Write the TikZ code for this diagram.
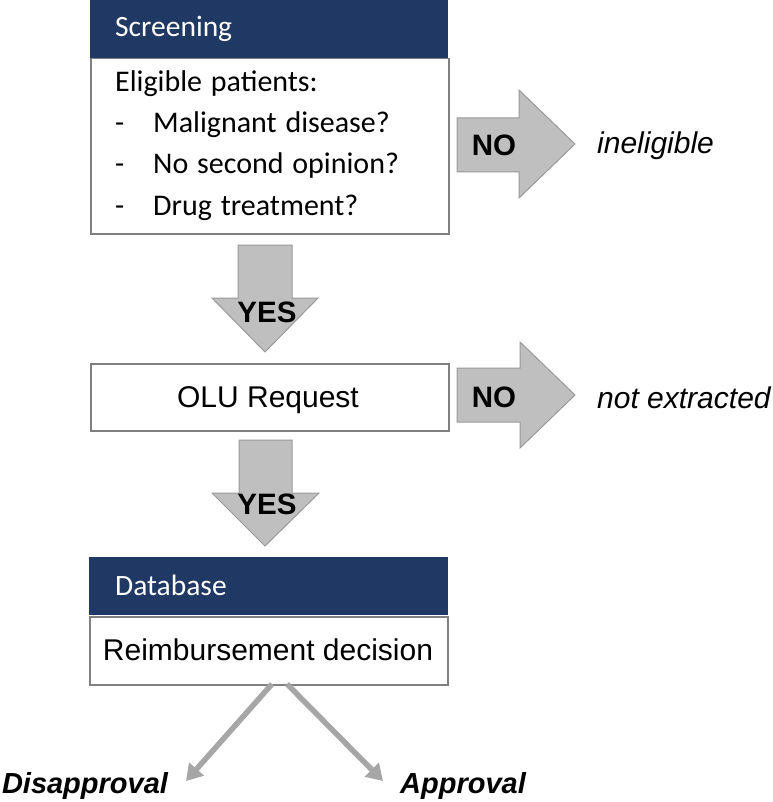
\documentclass[tikz,border=0pt]{standalone}
\usepackage{fontspec}
\setmainfont{Liberation Sans}
\newfontfamily\calfont{Carlito}
\newfontfamily\calwide[WordSpace=1.3]{Carlito}
\usetikzlibrary{arrows.meta,calc}
\definecolor{navy}{HTML}{203864}
\definecolor{boxgray}{HTML}{808080}
\definecolor{arrfill}{HTML}{BFBFBF}
\definecolor{arrline}{HTML}{999999}
\definecolor{vgray}{HTML}{A6A6A6}
\begin{document}
\begin{tikzpicture}[x=1pt,y=-1pt,
  box/.style={draw=boxgray, line width=1.5pt, fill=white, inner sep=0pt, anchor=north west, minimum width=358pt},
  hdr/.style={fill=navy, inner sep=0pt, anchor=north west, minimum width=358pt, minimum height=58pt},
  ctxt/.style={font=\calfont\fontsize{29.5}{35}\selectfont, inner sep=0pt, anchor=base west},
  btxt/.style={font=\calwide\fontsize{30}{36}\selectfont, inner sep=0pt, anchor=base west},
  atxt/.style={font=\fontsize{30}{36}\selectfont, inner sep=0pt, anchor=base},
  blk/.style={fill=arrfill, draw=arrline, line width=1pt, line join=miter},
  blbl/.style={font=\bfseries\fontsize{29.5}{35}\selectfont, inner sep=0pt},
  itl/.style={font=\itshape\fontsize{30}{36}\selectfont, inner sep=0pt, anchor=west},
  outc/.style={font=\bfseries\itshape\fontsize{29}{35}\selectfont, inner sep=0pt, anchor=base},
  decarr/.style={draw=vgray, line width=5.5pt, -{Triangle[length=16pt,width=19pt]}}]
\useasboundingbox (0,0) rectangle (772,802);

% Screening box
\node[box, minimum height=175pt] (scrB) at (90,58) {};
\node[hdr] (scrH) at (90,0) {};
\node[ctxt, text=white] (scrT) at (115,37) {Screening};
\node[btxt] (elig) at (115,92) {Eligible patients:};
\node[btxt] (d1) at (115,133) {-};
\node[btxt] (q1) at (153,133) {Malignant disease?};
\node[btxt] (d2) at (115,174) {-};
\node[btxt] (q2) at (153,174) {No second opinion?};
\node[btxt] (d3) at (115,215) {-};
\node[btxt] (q3) at (153,215) {Drug treatment?};

% OLU box
\node[box, minimum height=67pt] (olu) at (90,363) {};
\node[atxt] (oluT) at (268,407) {OLU Request};

% Database box
\node[box, minimum height=68pt] (dbB) at (89,616) {};
\node[hdr, minimum width=359pt] (dbH) at (89,557) {};
\node[ctxt, text=white] (dbT) at (115,595) {Database};
\node[atxt] (dbR) at (268,660) {Reimbursement decision};

% down arrows
\draw[blk] (238,245) -- (292,245) -- (292,298) -- (318,298) -- (265,352) -- (212,298) -- (238,298) -- cycle;
\node[blbl] (yes1) at (267,312) {YES};
\draw[blk] (239,440) -- (292,440) -- (292,493) -- (319,493) -- (265,546) -- (212,493) -- (239,493) -- cycle;
\node[blbl] (yes2) at (267,504) {YES};

% right arrows
\draw[blk] (457,118) -- (519,118) -- (519,90) -- (575,144) -- (519,198) -- (519,172) -- (457,172) -- cycle;
\node[blbl] (no1) at (494,145) {NO};
\node[itl] (inel) at (597,146) {ineligible};
\draw[blk] (457,368) -- (520,368) -- (520,342) -- (575,395) -- (520,448) -- (520,422) -- (457,422) -- cycle;
\node[blbl] (no2) at (494,397) {NO};
\node[itl] (notx) at (597,398) {not extracted};

% outcomes
\node[outc] (dis) at (85,793) {Disapproval};
\node[outc] (app) at (463,793) {Approval};
\coordinate (vl) at (272,684);
\coordinate (vr) at (287,684);
\coordinate (tl) at (186,781);
\coordinate (tr) at (383,781);
\draw[decarr] (vl) -- (tl);
\draw[decarr] (vr) -- (tr);
\end{tikzpicture}
\end{document}
